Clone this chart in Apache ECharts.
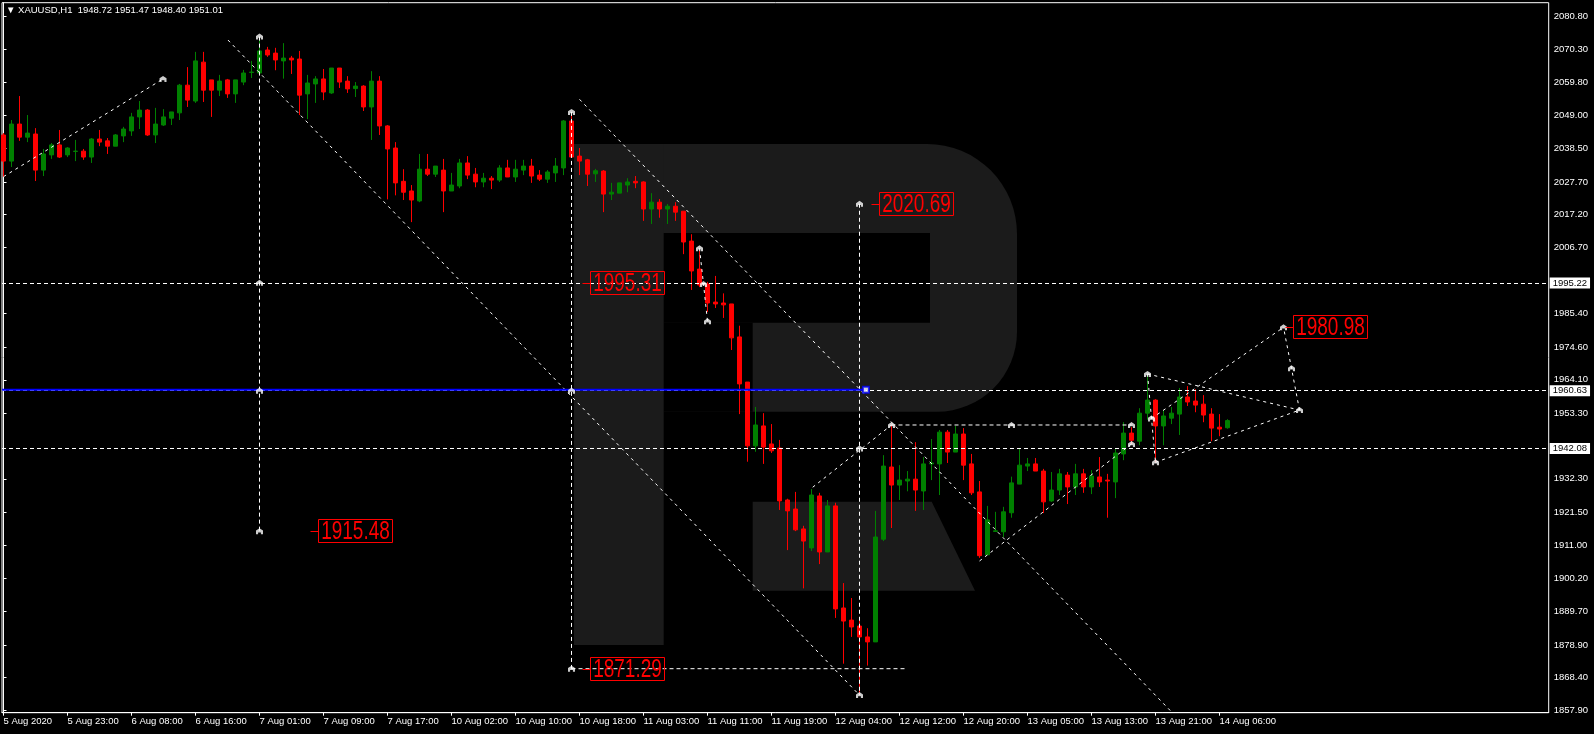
<!DOCTYPE html>
<html>
<head>
<meta charset="utf-8">
<script src="https://cdn.jsdelivr.net/npm/echarts@6/dist/echarts.min.js"></script>
<style>
html,body{margin:0;padding:0;background:#000;overflow:hidden;}
#chart{width:1594px;height:734px;}
</style>
</head>
<body>
<div id="chart"></div>
<script>
// ---------- DATA ----------
const symbolName = 'XAUUSD,H1';
const timeLabels = ['5 Aug 2020','5 Aug 23:00','6 Aug 08:00','6 Aug 16:00','7 Aug 01:00','7 Aug 09:00','7 Aug 17:00','10 Aug 02:00','10 Aug 10:00','10 Aug 18:00','11 Aug 03:00','11 Aug 11:00','11 Aug 19:00','12 Aug 04:00','12 Aug 12:00','12 Aug 20:00','13 Aug 05:00','13 Aug 13:00','13 Aug 21:00','14 Aug 06:00'];
const barsPerLabel = 8;
const priceTicks = [2080.80,2070.30,2059.80,2049.00,2038.50,2027.70,2017.20,2006.70,1985.40,1974.60,1964.10,1953.30,1932.30,1921.50,1911.00,1900.20,1889.70,1878.90,1868.40,1857.90];

const opens = [2042.8,2034.4,2046.3,2042.1,2043.1,2031.5,2036.4,2039.6,2036.4,2037.5,2037.6,2035.7,2041.5,2040.9,2039.2,2042.5,2044.1,2048.6,2050.8,2042.8,
2046.0,2048.2,2049.9,2058.8,2053.7,2066.2,2060.5,2057.2,2060.5,2056.0,2059.8,2062.9,2062.7,2070.1,2069.1,2066.6,2067.5,2067.2,2056.0,2059.2,
2060.8,2056.3,2064.3,2060.1,2057.7,2058.5,2051.8,2060.1,2045.7,2038.6,2027.9,2024.8,2021.6,2031.8,2030.2,2031.5,2024.8,2026.4,2033.8,2030.2,
2027.7,2028.9,2028.3,2032.2,2029.3,2031.5,2032.8,2029.9,2028.6,2030.6,2032.2,2047.3,2036.0,2034.8,2030.3,2031.2,2023.8,2024.1,2026.7,2027.9,
2027.7,2019.0,2021.2,2019.0,2019.9,2018.3,2008.7,1999.7,1994.9,1989.1,1988.8,1988.5,1977.9,1963.4,1942.9,1949.3,1943.5,1942.2,1925.5,1922.6,
1916.2,1910.1,1926.8,1908.8,1923.6,1890.8,1886.9,1885.0,1881.5,1879.9,1912.9,1936.1,1930.3,1931.6,1932.2,1928.4,1937.1,1937.1,1947.3,1940.9,
1946.7,1937.1,1928.1,1907.9,1915.4,1915.3,1921.4,1930.6,1936.4,1937.1,1934.8,1925.2,1928.7,1933.5,1929.7,1933.9,1929.7,1932.9,1931.9,1931.3,
1940.3,1947.0,1944.4,1953.4,1957.6,1949.3,1951.8,1953.1,1958.6,1957.3,1956.3,1953.1,1948.9,1948.72];
const highs = [2043.4,2047.6,2055.3,2049.2,2045.0,2038.3,2040.2,2044.4,2038.9,2041.2,2038.3,2041.8,2044.4,2041.8,2043.1,2045.4,2049.9,2053.7,2051.1,2051.5,
2051.1,2050.2,2059.2,2064.6,2069.5,2069.5,2060.5,2062.1,2060.8,2060.5,2063.7,2066.6,2073.8,2071.1,2070.8,2072.3,2068.2,2069.8,2062.1,2061.7,
2064.0,2064.3,2064.3,2061.7,2059.8,2058.8,2063.3,2061.7,2046.0,2040.5,2031.8,2026.7,2036.7,2036.7,2032.8,2035.1,2030.6,2035.1,2036.0,2032.2,
2030.6,2029.6,2033.1,2034.8,2034.8,2034.8,2035.1,2031.5,2031.5,2035.4,2047.6,2050.2,2038.6,2035.1,2031.9,2031.5,2027.4,2027.4,2028.9,2029.6,
2027.9,2024.1,2022.2,2020.6,2021.2,2018.3,2010.9,2005.8,1995.6,1997.5,1991.9,1988.5,1981.5,1963.4,1955.4,1953.4,1949.9,1944.8,1925.9,1928.1,
1917.2,1929.0,1927.8,1925.5,1924.6,1898.8,1894.0,1886.9,1884.3,1922.0,1939.9,1949.6,1936.7,1934.8,1944.1,1939.3,1945.1,1948.0,1948.0,1949.3,
1948.6,1940.3,1931.6,1923.6,1921.7,1923.3,1933.0,1942.2,1939.0,1939.0,1935.5,1934.5,1935.5,1934.5,1937.1,1935.5,1935.1,1939.3,1933.9,1941.9,
1950.5,1948.9,1955.0,1966.0,1957.9,1954.4,1955.4,1961.5,1962.1,1961.1,1959.2,1955.0,1953.1,1951.47];
const lows = [2029.3,2032.5,2040.9,2040.5,2028.0,2029.6,2035.1,2035.4,2035.7,2034.4,2034.8,2033.8,2039.2,2036.7,2039.2,2040.5,2042.5,2044.7,2042.5,2040.2,
2045.7,2046.0,2047.6,2051.8,2053.1,2053.4,2048.6,2055.3,2054.7,2053.1,2058.8,2061.1,2062.7,2067.9,2063.6,2060.9,2062.4,2049.2,2047.9,2053.1,
2054.0,2056.0,2057.9,2056.3,2055.0,2050.5,2041.2,2042.8,2022.1,2023.4,2021.9,2014.8,2021.2,2029.6,2029.3,2018.0,2024.8,2025.7,2028.6,2026.0,
2026.0,2025.4,2027.7,2029.3,2027.7,2029.9,2027.4,2028.0,2027.4,2027.7,2029.9,2035.7,2029.9,2026.4,2027.7,2018.0,2021.9,2024.1,2024.4,2025.7,
2015.2,2014.2,2016.2,2014.2,2015.2,2004.5,1993.0,1993.9,1985.9,1987.2,1984.0,1973.7,1953.1,1937.8,1941.0,1937.1,1940.6,1922.3,1909.4,1915.5,
1897.1,1909.1,1904.9,1908.8,1887.6,1872.9,1881.5,1862.8,1872.3,1879.9,1912.3,1916.5,1925.5,1928.3,1922.0,1922.3,1931.9,1927.1,1937.4,1940.9,
1931.9,1927.1,1906.9,1907.9,1915.3,1913.6,1919.8,1930.6,1934.8,1934.8,1921.3,1924.9,1927.1,1924.2,1927.1,1927.8,1927.4,1929.7,1919.8,1926.1,
1938.3,1943.5,1943.1,1951.3,1937.6,1943.1,1949.9,1946.4,1955.7,1953.7,1950.5,1944.4,1946.0,1948.40];
const closes = [2034.4,2046.3,2042.1,2043.4,2031.5,2036.7,2039.6,2035.7,2038.6,2037.6,2035.7,2041.5,2040.5,2039.2,2042.8,2044.7,2048.6,2050.8,2042.8,2046.3,
2048.6,2050.2,2058.8,2054.0,2066.6,2057.2,2057.2,2060.1,2056.0,2060.5,2062.7,2063.0,2069.8,2068.5,2066.9,2067.5,2066.9,2055.6,2059.5,2060.8,
2056.6,2064.3,2059.8,2057.6,2058.5,2051.8,2060.1,2045.7,2038.3,2027.4,2024.4,2021.9,2031.8,2030.2,2032.8,2024.8,2026.7,2033.8,2029.9,2027.7,
2028.9,2028.3,2032.2,2029.3,2031.8,2032.8,2029.6,2028.6,2030.9,2032.8,2047.3,2035.7,2034.4,2030.2,2031.3,2023.8,2024.4,2027.4,2027.7,2027.4,
2019.0,2021.2,2019.0,2019.9,2018.0,2008.4,1999.1,1994.6,1988.8,1988.5,1988.2,1977.6,1962.8,1942.9,1949.6,1942.5,1941.3,1925.2,1922.0,1915.9,
1912.3,1927.1,1908.8,1923.6,1890.5,1886.6,1884.7,1881.5,1879.9,1913.6,1936.4,1930.3,1931.9,1932.2,1928.7,1937.1,1937.4,1947.3,1940.9,1946.7,
1936.7,1927.8,1907.6,1919.1,1915.6,1921.7,1931.0,1936.7,1937.1,1934.8,1924.9,1928.7,1933.9,1929.7,1933.9,1929.7,1933.2,1931.3,1931.6,1940.6,
1947.0,1944.7,1953.4,1957.6,1949.3,1952.5,1953.4,1958.6,1957.0,1956.0,1952.8,1948.6,1948.3,1951.01];

// horizontal levels drawn across the chart, and axis price boxes
const levelLines = [1995.22, 1960.63, 1942.08];
const currentPrice = 1951.01;
// blue trend line (bar index, price)
const blueLine = [[-0.19, 1960.9], [107.8, 1960.9]];
// straight dashed annotation lines (bar index, price)
const dashLines = [
  [[32, 2074.4], [32, 1915.48]],
  [[71, 2050.2], [71, 1871.29]],
  [[107, 2020.69], [107, 1862.8]],
  [[71, 1871.29], [113, 1871.29]],
  [[111, 1949.6], [141, 1949.6]]
];
// dotted trend / projection lines (bar index, price)
const dotLines = [
  [[0, 2029.4], [19.94, 2060.8]],
  [[28.06, 2073.3], [107, 1862.8]],
  [[72, 2054.25], [146.1, 1857.15]],
  [[101.15, 1929.6], [111, 1949.6]],
  [[122, 1905.9], [141, 1943.5]],
  [[87, 2006.4], [87.5, 1994.9], [88, 1982.9]],
  [[143, 1966.0], [143.5, 1951.7], [144, 1937.6]],
  [[143, 1966.0], [162, 1954.4]],
  [[144, 1937.6], [162, 1954.4]],
  [[162, 1954.4], [161, 1967.8], [160, 1980.98]],
  [[143.5, 1951.7], [160, 1980.98]]
];
// price-label arrows (bar index, price)
const arrowPoints = [[19.94,2060.8],[32,2074.4],[32,1995.31],[32,1960.63],[32,1915.48],[71,2050.2],[71,1960.63],[71,1871.29],
  [107,2020.69],[107,1942.08],[107,1862.8],[111,1949.6],[126,1949.6],[141,1949.6],[141,1943.5],[87,2006.4],[87.5,1994.9],[88,1982.9],
  [143,1966.0],[143.5,1951.7],[144,1937.6],[162,1954.4],[161,1967.8],[160,1980.98]];
// red boxed price labels (anchor bar index, price)
const redLabels = [[108.4, 2020.69], [72.3, 1995.31], [38.3, 1915.48], [72.3, 1871.29], [160.2, 1980.98]];

// ---------- CHART ----------
const candleData = opens.map((o, i) => [i, o, closes[i], lows[i], highs[i]]);
const last = candleData.length - 1;
const titleText = '\u25BC ' + symbolName + '  ' + [opens[last], highs[last], lows[last], closes[last]].map(v => v.toFixed(2)).join(' ');
const FONT = '"Liberation Sans", Arial, sans-serif';
const chart = echarts.init(document.getElementById('chart'), null, {renderer: 'canvas'});

const WM = '#1b1b1b';
const series = [];
series.push({
  type: 'candlestick',
  data: candleData,
  barWidth: 4,
  z: 4,
  itemStyle: {color: '#008000', color0: '#ff0000', borderColor: '#008000', borderColor0: '#ff0000', borderWidth: 1},
  markLine: {
    symbol: 'none', silent: true, animation: false, precision: 2,
    lineStyle: {color: '#ffffff', width: 1, type: [4, 3]},
    label: {show: true, position: 'end', distance: 1, color: '#000', backgroundColor: '#fff',
      padding: [1, 3, 0, 3], fontSize: 9.5, fontFamily: FONT, formatter: p => Number(p.value).toFixed(2)},
    data: levelLines.map(v => ({yAxis: v})).concat([{yAxis: currentPrice, lineStyle: {opacity: 0}}])
  }
});
dashLines.forEach(l => series.push({type: 'line', data: l, symbol: 'none', silent: true, z: 5,
  lineStyle: {color: '#fff', width: 1, type: [4, 3]}}));
dotLines.forEach(l => series.push({type: 'line', data: l, symbol: 'none', silent: true, z: 5,
  lineStyle: {color: '#fff', width: 1, type: [3, 4]}}));
series.push({type: 'line', data: blueLine, symbol: 'none', silent: true, z: 6,
  lineStyle: {color: '#0000ff', width: 2, type: 'solid'}});
series.push({type: 'scatter', data: [blueLine[1]], symbol: 'rect', symbolSize: 6, silent: true, z: 7,
  itemStyle: {color: '#fff', borderColor: '#0000ff', borderWidth: 2}});
series.push({type: 'scatter', data: arrowPoints, silent: true, z: 7,
  symbol: 'path://M0,10 L0,4 L5,0 L10,4 L10,10 L7,10 L7,7 L3,7 L3,10 Z', symbolSize: [7, 6],
  itemStyle: {color: '#fff'}});
series.push({
  type: 'custom', silent: true, z: 8, data: redLabels, encode: {x: 0, y: 1},
  renderItem: function (params, api) {
    const pt = api.coord([api.value(0), api.value(1)]);
    const x = Math.round(pt[0]) + 0.5, y = Math.round(pt[1]) + 0.5;
    return {type: 'group', children: [
      {type: 'line', shape: {x1: x, y1: y, x2: x + 8, y2: y}, style: {stroke: '#ff0000', lineWidth: 1}},
      {type: 'rect', shape: {x: x + 8, y: y - 12, width: 74, height: 23}, style: {stroke: '#ff0000', fill: 'rgba(0,0,0,0)', lineWidth: 1}},
      {type: 'text', x: x + 45, y: y + 1, scaleX: 0.76,
        style: {text: api.value(1).toFixed(2), fill: '#ff0000', font: '25px ' + FONT,
          align: 'center', verticalAlign: 'middle', textAlign: 'center', textVerticalAlign: 'middle'}}
    ]};
  }
});

chart.setOption({
  backgroundColor: '#000',
  animation: false,
  title: {text: titleText, left: 6, top: 5, padding: 0,
    textStyle: {color: '#fff', fontSize: 9.5, fontWeight: 'normal', fontFamily: FONT, lineHeight: 11}},
  graphic: {elements: [
    {type: 'rect', z: 0, silent: true, shape: {x: 574, y: 144, width: 443, height: 267.7, r: [0, 90, 80, 0]}, style: {fill: WM}},
    {type: 'rect', z: 0, silent: true, shape: {x: 574, y: 144, width: 89.7, height: 501}, style: {fill: WM}},
    {type: 'polygon', z: 0, silent: true, shape: {points: [[752.7, 501.7], [931.7, 501.7], [975, 590.7], [752.7, 590.7]]}, style: {fill: WM}},
    {type: 'rect', z: 0, silent: true, shape: {x: 663.7, y: 233, width: 266.3, height: 89.7}, style: {fill: '#000'}},
    {type: 'rect', z: 0, silent: true, shape: {x: 663.7, y: 322.7, width: 89, height: 89}, style: {fill: '#000'}}
  ]},
  grid: {left: 2, right: 45.3, top: 2.7, bottom: 21.3, show: true, borderColor: '#fff', borderWidth: 1,
    backgroundColor: 'transparent', containLabel: false, outerBoundsMode: 'none'},
  xAxis: {
    type: 'value', min: -0.1875, max: 193.15, splitLine: {show: false},
    axisLine: {show: true, lineStyle: {color: '#fff', width: 1}},
    axisTick: {show: true, length: 3, lineStyle: {color: '#fff'}, customValues: timeLabels.map((t, k) => k * barsPerLabel)},
    axisLabel: {show: true, color: '#fff', fontSize: 9.5, fontFamily: FONT, align: 'left', margin: 4,
      customValues: timeLabels.map((t, k) => k * barsPerLabel),
      formatter: v => timeLabels[Math.round(v / barsPerLabel)] || ''}
  },
  yAxis: {
    type: 'value', position: 'right', min: 1857.15, max: 2085.3, scale: true, splitLine: {show: false},
    axisLine: {show: true, lineStyle: {color: '#fff', width: 1}},
    axisTick: {show: true, length: 3, lineStyle: {color: '#fff'}, customValues: priceTicks},
    axisLabel: {show: true, color: '#fff', fontSize: 9.5, fontFamily: FONT, margin: 5,
      customValues: priceTicks, formatter: v => Number(v).toFixed(2)}
  },
  series: series
});
</script>
</body>
</html>
